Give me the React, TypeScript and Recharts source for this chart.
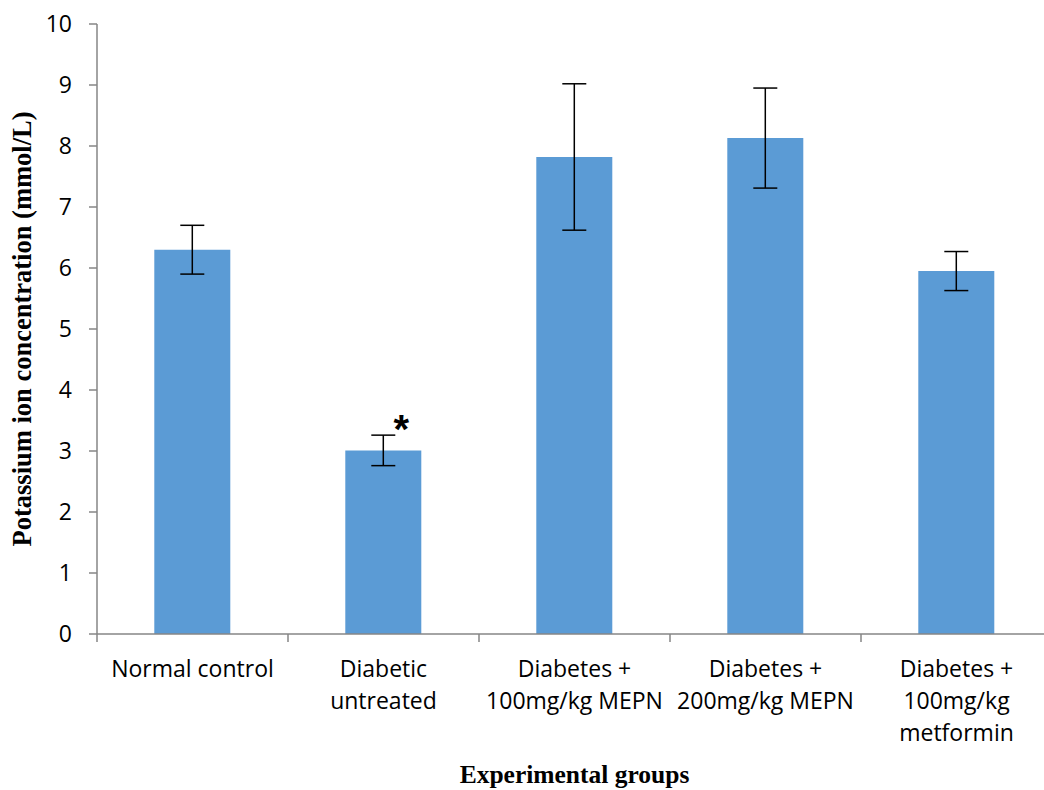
import React from "react";
import { BarChart, Bar, XAxis, YAxis, ErrorBar, LabelList, Label } from "recharts";

const categories = [
  "Normal control",
  "Diabetic\nuntreated",
  "Diabetes +\n100mg/kg MEPN",
  "Diabetes +\n200mg/kg MEPN",
  "Diabetes +\n100mg/kg\nmetformin",
];
const means = [6.3, 3.01, 7.82, 8.13, 5.95];
const errors = [0.4, 0.25, 1.2, 0.82, 0.32];
const significance = ["", "*", "", "", ""];
const yTicks = [0, 1, 2, 3, 4, 5, 6, 7, 8, 9, 10];

const data = categories.map((c, i) => ({
  name: c,
  value: means[i],
  err: errors[i],
  sig: significance[i],
}));

const AXIS = "#868686";
const TICK_FONT = "'Open Sans', sans-serif";

const XTick = (props: any) => {
  const { x, y, payload, index, visibleTicksCount } = props;
  const lines = String(payload.value).split("\n");
  const off = payload.offset;
  return (
    <g>
      {typeof off === "number" && (
        <line x1={x - off} x2={x - off} y1={y} y2={y + 8} stroke={AXIS} strokeWidth={1.5} />
      )}
      {typeof off === "number" && index === (visibleTicksCount ?? 5) - 1 && (
        <line x1={x + off} x2={x + off} y1={y} y2={y + 8} stroke={AXIS} strokeWidth={1.5} />
      )}
      <text
        x={x}
        y={y + 43}
        textAnchor="middle"
        fontFamily={TICK_FONT}
        fontSize={23}
        fill="#000"
      >
        {lines.map((l, i) => (
          <tspan key={i} x={x} dy={i === 0 ? 0 : 32}>
            {l}
          </tspan>
        ))}
      </text>
    </g>
  );
};

const Star = (props: any) => {
  const { x, y, width, value } = props;
  if (!value) return null;
  return (
    <text
      x={x + width / 2 + 18}
      y={y - 7}
      textAnchor="middle"
      fontFamily="'Liberation Sans', Arial, sans-serif"
      fontWeight="bold"
      fontSize={40}
      fill="#000"
    >
      {value}
    </text>
  );
};

export default function App() {
  return (
    <div
      style={{
        position: "absolute",
        left: 0,
        top: 0,
        width: 1044,
        height: 790,
        overflow: "hidden",
        background: "#fff",
      }}
    >
      <BarChart
        width={1060}
        height={790}
        data={data}
        margin={{ top: 24, right: 8, bottom: 0, left: 0 }}
        barCategoryGap="30%"
      >
        <XAxis
          dataKey="name"
          interval={0}
          height={156}
          tickSize={0}
          tickMargin={0}
          tickLine={false}
          axisLine={{ stroke: AXIS, strokeWidth: 1.5 }}
          tick={<XTick />}
        >
          <Label
            content={(p: any) => {
              const vb = p.viewBox;
              return (
                <text
                  x={vb.x + vb.width / 2}
                  y={783}
                  textAnchor="middle"
                  fontFamily="'Liberation Serif', 'Times New Roman', serif"
                  fontWeight="bold"
                  fontSize={25.5}
                  fill="#000"
                >
                  Experimental groups
                </text>
              );
            }}
          />
        </XAxis>
        <YAxis
          width={97}
          domain={[0, 10]}
          ticks={yTicks}
          interval={0}
          tickSize={8}
          tickMargin={17}
          axisLine={{ stroke: AXIS, strokeWidth: 1.5 }}
          tickLine={{ stroke: AXIS, strokeWidth: 1.5 }}
          tick={{ fontFamily: TICK_FONT, fontSize: 23, fill: "#000" }}
        >
          <Label
            content={(p: any) => {
              const vb = p.viewBox;
              const cx = 22;
              const cy = vb.y + vb.height / 2;
              return (
                <text
                  x={cx}
                  y={cy}
                  transform={`rotate(-90 ${cx} ${cy})`}
                  textAnchor="middle"
                  dominantBaseline="central"
                  fontFamily="'Liberation Serif', 'Times New Roman', serif"
                  fontWeight="bold"
                  fontSize={26.5}
                  fill="#000"
                >
                  Potassium ion concentration (mmol/L)
                </text>
              );
            }}
          />
        </YAxis>
        <Bar dataKey="value" fill="#5B9BD5" isAnimationActive={false}>
          <ErrorBar
            dataKey="err"
            width={12}
            stroke="#000"
            strokeWidth={1.5}
            direction="y"
            isAnimationActive={false}
          />
          <LabelList dataKey="sig" content={<Star />} />
        </Bar>
      </BarChart>
    </div>
  );
}
